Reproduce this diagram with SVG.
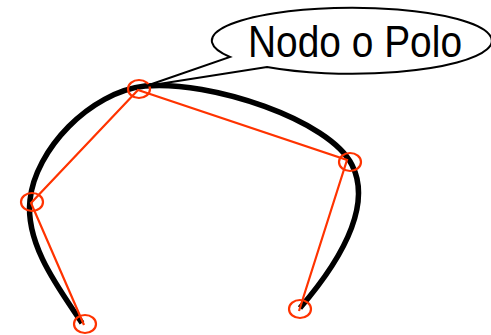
<svg xmlns="http://www.w3.org/2000/svg" width="491" height="335" viewBox="0 0 491 335">
  <style>
    .curve { fill: none; stroke: #000; stroke-width: 5.5; stroke-linecap: butt; }
    .ctrl { fill: none; stroke: #ff3300; stroke-width: 2.2; }
    .callout { fill: #fff; stroke: #000; stroke-width: 2; }
    .label { font-family: "Liberation Sans", Arial, sans-serif; font-size: 44px; fill: #000; }
  </style>
  <rect width="491" height="335" fill="#fff"/>

  <g id="connectors">
    <!-- spline curve -->
    <path class="curve" d="M 82,323 C 60,290 25,245 30,200 C 35,150 90,92 145,86 C 210,80 330,120 352,165 C 370,200 350,250 300,308"/>
    <!-- control polygon -->
    <polyline class="ctrl" points="84,325 31,203 138,90 347,160 299,311"/>
  </g>

  <g id="control-points">
    <ellipse id="p0" class="ctrl" cx="85" cy="324" rx="11" ry="9"/>
    <ellipse id="p1" class="ctrl" cx="32" cy="202" rx="11" ry="9"/>
    <ellipse id="p2" class="ctrl" cx="139" cy="89" rx="11" ry="9"/>
    <ellipse id="p3" class="ctrl" cx="350" cy="162" rx="11" ry="9"/>
    <ellipse id="p4" class="ctrl" cx="300" cy="309" rx="11" ry="9"/>
  </g>

  <g id="callout">
    <path class="callout" d="M 230,57 A 140,33 0 1 1 267,67 L 146,86 Z"/>
    <text class="label" x="248" y="57" textLength="214" lengthAdjust="spacingAndGlyphs">Nodo o Polo</text>
  </g>
</svg>
